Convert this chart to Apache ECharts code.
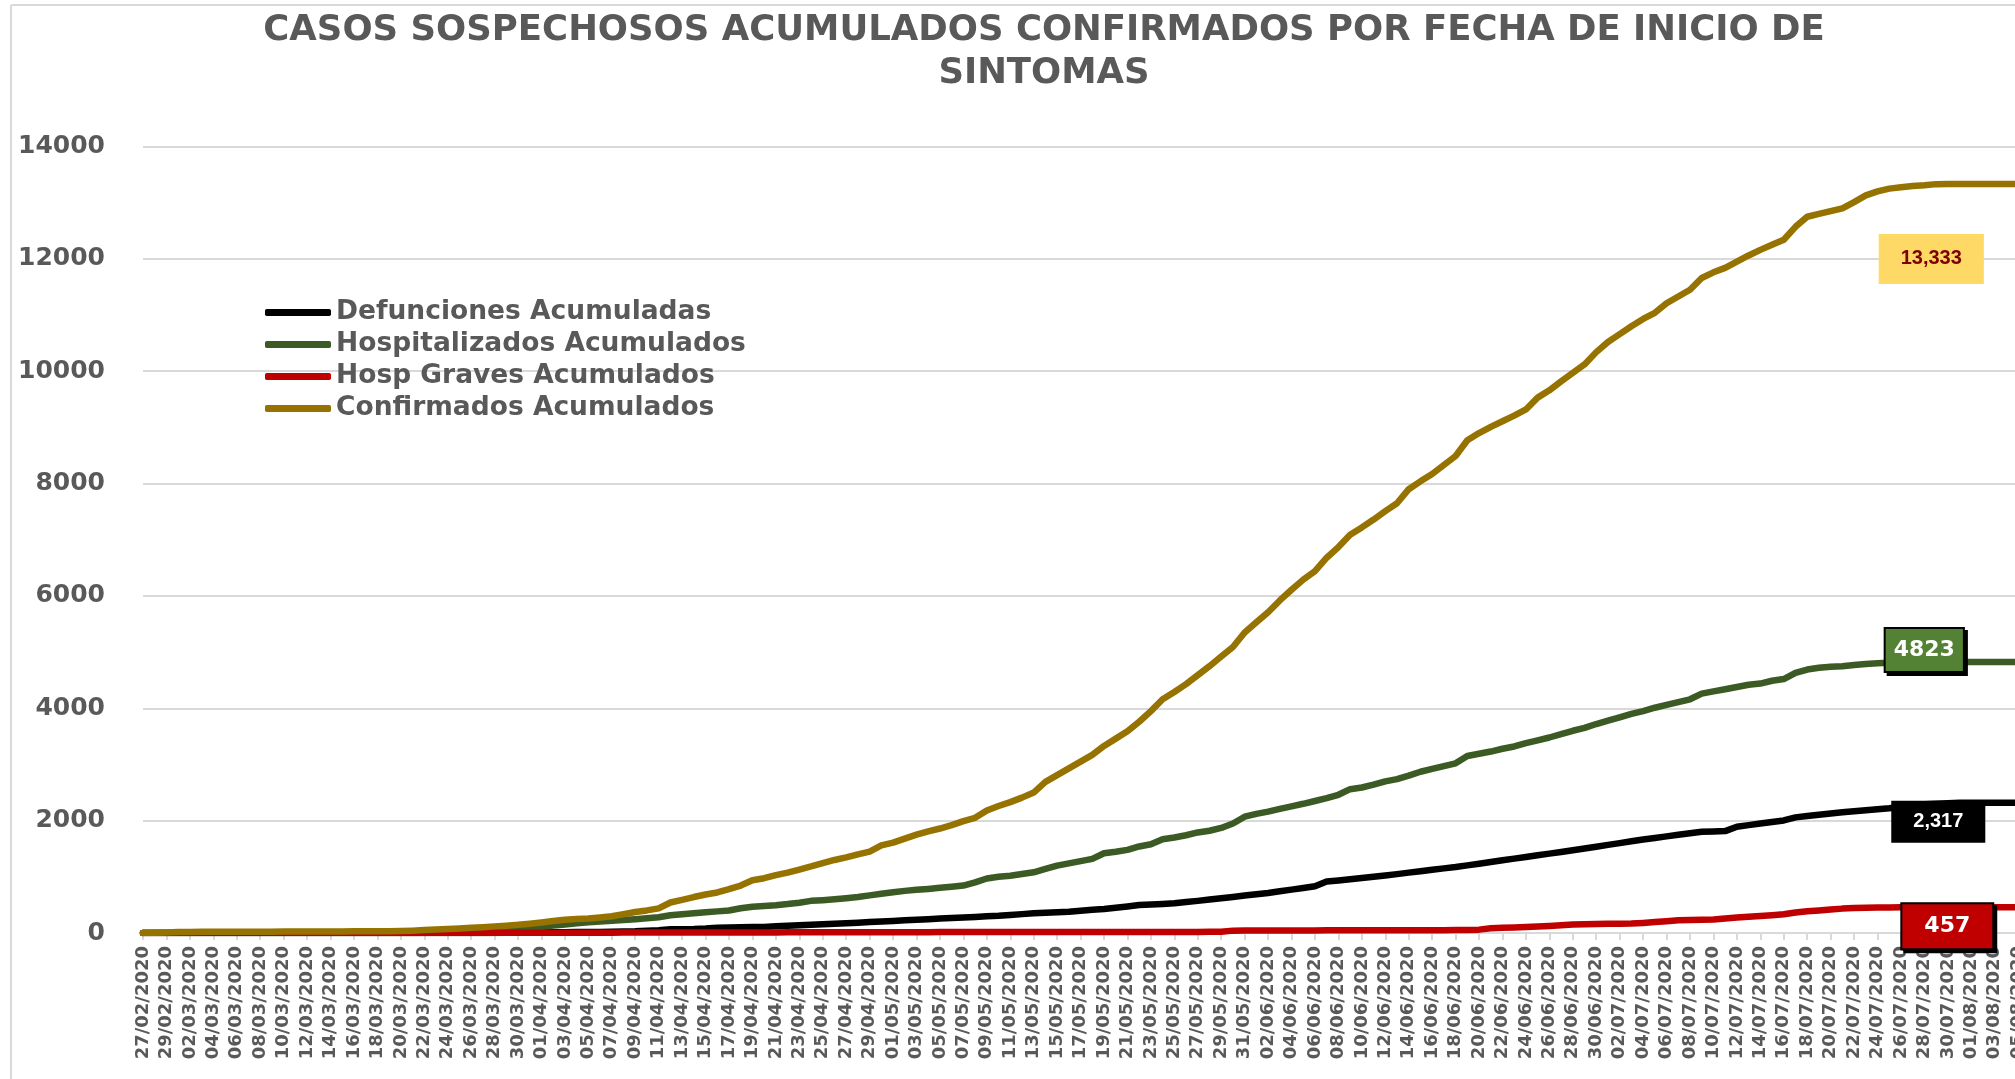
<!DOCTYPE html>
<html><head><meta charset="utf-8">
<script src="https://cdn.jsdelivr.net/npm/echarts@6/dist/echarts.min.js"></script>
<style>html,body{margin:0;padding:0;background:#fff;overflow:hidden}#c{width:2015px;height:1079px}</style>
</head><body><div id="c"></div>
<script>
const dates = [
"27/02/2020","28/02/2020","29/02/2020",
"01/03/2020","02/03/2020","03/03/2020","04/03/2020","05/03/2020","06/03/2020","07/03/2020","08/03/2020","09/03/2020","10/03/2020",
"11/03/2020","12/03/2020","13/03/2020","14/03/2020","15/03/2020","16/03/2020","17/03/2020","18/03/2020","19/03/2020","20/03/2020",
"21/03/2020","22/03/2020","23/03/2020","24/03/2020","25/03/2020","26/03/2020","27/03/2020","28/03/2020","29/03/2020","30/03/2020","31/03/2020",
"01/04/2020","02/04/2020","03/04/2020","04/04/2020","05/04/2020","06/04/2020","07/04/2020","08/04/2020","09/04/2020","10/04/2020",
"11/04/2020","12/04/2020","13/04/2020","14/04/2020","15/04/2020","16/04/2020","17/04/2020","18/04/2020","19/04/2020","20/04/2020",
"21/04/2020","22/04/2020","23/04/2020","24/04/2020","25/04/2020","26/04/2020","27/04/2020","28/04/2020","29/04/2020","30/04/2020",
"01/05/2020","02/05/2020","03/05/2020","04/05/2020","05/05/2020","06/05/2020","07/05/2020","08/05/2020","09/05/2020","10/05/2020",
"11/05/2020","12/05/2020","13/05/2020","14/05/2020","15/05/2020","16/05/2020","17/05/2020","18/05/2020","19/05/2020","20/05/2020",
"21/05/2020","22/05/2020","23/05/2020","24/05/2020","25/05/2020","26/05/2020","27/05/2020","28/05/2020","29/05/2020","30/05/2020","31/05/2020",
"01/06/2020","02/06/2020","03/06/2020","04/06/2020","05/06/2020","06/06/2020","07/06/2020","08/06/2020","09/06/2020","10/06/2020",
"11/06/2020","12/06/2020","13/06/2020","14/06/2020","15/06/2020","16/06/2020","17/06/2020","18/06/2020","19/06/2020","20/06/2020",
"21/06/2020","22/06/2020","23/06/2020","24/06/2020","25/06/2020","26/06/2020","27/06/2020","28/06/2020","29/06/2020","30/06/2020",
"01/07/2020","02/07/2020","03/07/2020","04/07/2020","05/07/2020","06/07/2020","07/07/2020","08/07/2020","09/07/2020","10/07/2020",
"11/07/2020","12/07/2020","13/07/2020","14/07/2020","15/07/2020","16/07/2020","17/07/2020","18/07/2020","19/07/2020","20/07/2020",
"21/07/2020","22/07/2020","23/07/2020","24/07/2020","25/07/2020","26/07/2020","27/07/2020","28/07/2020","29/07/2020","30/07/2020","31/07/2020",
"01/08/2020","02/08/2020","03/08/2020","04/08/2020","05/08/2020","06/08/2020","07/08/2020"
];

const seriesNames = ["Defunciones Acumuladas","Hospitalizados Acumulados","Hosp Graves Acumulados","Confirmados Acumulados"];

const defunciones = [
0,0,0,0,0,0,0,0,0,0,
0,0,0,0,0,0,0,0,0,0,
0,0,0,0,0,0,0,0,0,0,
2,4,6,8,10,12,14,16,18,20,
22,26,30,40,50,65,68,70,80,95,
100,104,106,108,118,128,138,145,155,165,
174,184,194,204,214,226,236,246,256,266,
276,286,296,305,320,336,353,362,370,378,
395,412,428,450,472,497,508,518,528,550,
572,595,618,642,666,690,713,742,772,800,
832,916,936,958,980,1002,1025,1048,1075,1100,
1125,1150,1174,1204,1234,1264,1294,1324,1353,1383,
1413,1443,1473,1503,1535,1568,1600,1632,1665,1692,
1720,1748,1776,1802,1808,1814,1892,1920,1948,1976,
2003,2058,2084,2106,2128,2150,2168,2186,2204,2222,
2245,2268,2290,2300,2310,2317,2317,2317,2317,2317,
2317,2317,2317
];

const hospitalizados = [
0,0,0,0,0,0,0,0,0,0,
0,0,0,0,0,0,0,0,0,0,
0,0,0,0,5,10,18,28,40,50,
58,66,75,95,115,135,152,172,192,205,
218,232,245,262,280,315,335,352,370,385,
400,440,468,480,495,515,540,572,585,600,
618,640,670,700,725,750,768,785,805,825,
845,900,970,1000,1020,1050,1080,1140,1200,1240,
1280,1320,1420,1445,1480,1540,1580,1670,1700,1740,
1790,1820,1870,1950,2070,2120,2160,2210,2255,2300,
2350,2400,2460,2560,2590,2640,2700,2740,2800,2870,
2920,2970,3020,3150,3190,3230,3280,3320,3380,3430,
3480,3540,3600,3650,3720,3780,3840,3900,3950,4010,
4060,4110,4160,4260,4300,4340,4380,4420,4440,4490,
4520,4630,4690,4720,4740,4750,4770,4790,4800,4810,
4815,4823,4823,4823,4823,4823,4823,4823,4823,4823,
4823,4823,4823
];

const graves = [
0,0,0,0,0,0,0,0,0,0,
0,0,0,0,0,0,0,0,0,0,
0,0,0,0,0,1,1,2,2,2,
3,3,3,4,4,4,5,5,5,6,
6,7,7,7,8,8,9,9,9,10,
10,10,11,11,11,12,12,12,13,13,
13,14,14,14,15,15,15,15,16,16,
16,16,17,17,17,17,18,18,18,18,
18,19,19,19,19,19,20,20,20,20,
20,21,21,42,43,44,44,45,45,46,
46,47,47,48,48,48,49,49,50,50,
51,51,52,52,60,84,92,100,108,117,
126,138,150,155,160,164,166,168,180,195,
210,228,232,236,240,258,275,288,302,318,
334,366,386,400,418,434,444,448,452,455,
457,457,457,457,457,457,457,457,457,457,
457,457,457
];

const confirmados = [
0,4,10,18,20,21,22,22,23,23,
24,24,25,25,26,26,27,28,29,30,
31,33,36,42,52,62,72,82,92,104,
118,130,145,165,187,212,236,248,258,276,
298,335,374,402,438,543,590,640,685,722,
780,845,940,975,1030,1075,1130,1185,1245,1300,
1345,1400,1450,1560,1610,1680,1750,1810,1860,1920,
1990,2050,2180,2260,2330,2410,2500,2690,2810,2930,
3050,3170,3330,3460,3590,3760,3950,4160,4290,4430,
4590,4750,4920,5090,5350,5530,5710,5920,6110,6290,
6440,6680,6870,7090,7220,7360,7510,7650,7900,8040,
8170,8330,8490,8770,8900,9010,9110,9210,9320,9530,
9660,9820,9970,10120,10340,10520,10660,10800,10930,11040,
11210,11330,11450,11660,11760,11840,11950,12060,12160,12250,
12340,12570,12750,12800,12850,12900,13010,13130,13200,13250,
13275,13295,13310,13330,13333,13333,13333,13333,13333,13333,
13333,13333,13333
];

const colors = ["#000000", "#3B5A24", "#C00000", "#967300"];
const LABEL_IDX = 156;
const fmtComma = v => String(v).replace(/\B(?=(\d{3})+(?!\d))/g, ',');

const labelStyles = [
  {show:true, position:'inside', offset:[-33,19], formatter: p => fmtComma(p.value),
   backgroundColor:'#000000', color:'#ffffff', fontFamily:'"Liberation Sans Narrow","Liberation Sans",sans-serif',
   fontWeight:'bold', fontSize:20, padding:[11,22]},
  {show:true, position:'inside', offset:[-47,-12], formatter: p => String(p.value),
   backgroundColor:'#548235', color:'#ffffff', fontFamily:'"DejaVu Sans",sans-serif', fontWeight:'bold', fontSize:22,
   padding:[10,8], borderColor:'#000000', borderWidth:2, shadowColor:'#000000', shadowOffsetX:3, shadowOffsetY:3, shadowBlur:0},
  {show:true, position:'inside', offset:[-24,19], formatter: p => String(p.value),
   backgroundColor:'#C00000', color:'#ffffff', fontFamily:'"DejaVu Sans",sans-serif', fontWeight:'bold', fontSize:22,
   padding:[11,22], borderColor:'#000000', borderWidth:2, shadowColor:'#000000', shadowOffsetX:3, shadowOffsetY:3, shadowBlur:0},
  {show:true, position:'inside', offset:[-40,75], formatter: p => fmtComma(p.value),
   backgroundColor:'#FFD966', color:'#7F0000', fontFamily:'"Liberation Sans Narrow","Liberation Sans",sans-serif',
   fontWeight:'bold', fontSize:20, padding:[15,22]}
];

function withLabel(arr, lab) {
  return arr.map((v, i) => i === LABEL_IDX ? {value: v, label: lab} : v);
}

const allData = [defunciones, hospitalizados, graves, confirmados];

const series = allData.map((arr, k) => ({
  name: seriesNames[k],
  type: 'line',
  data: withLabel(arr, labelStyles[k]),
  showSymbol: true,
  showAllSymbol: true,
  symbol: 'circle',
  symbolSize: 0,
  itemStyle: {color: colors[k]},
  lineStyle: {color: colors[k], width: 6.5, cap: 'round', join: 'round'},
  label: {show: false},
  emphasis: {disabled: true},
  z: 2 + k
}));

const chart = echarts.init(document.getElementById('c'), null, {renderer: 'canvas'});
chart.setOption({
  animation: false,
  backgroundColor: '#ffffff',
  title: {
    text: 'CASOS SOSPECHOSOS ACUMULADOS CONFIRMADOS POR FECHA DE INICIO DE\nSINTOMAS',
    left: 1044, top: 9, textAlign: 'center', padding: 0,
    textStyle: {fontFamily: '"DejaVu Sans",sans-serif', fontWeight: 'bold', fontSize: 35.5, color: '#595959', lineHeight: 43}
  },
  legend: {
    orient: 'vertical', left: 260, top: 294, itemWidth: 66, itemHeight: 7, itemGap: 5, icon: 'roundRect',
    textStyle: {fontFamily: '"DejaVu Sans",sans-serif', fontWeight: 'bold', fontSize: 26.5, color: '#595959', lineHeight: 26},
    data: seriesNames
  },
  grid: {left: 143, right: -26.6, top: 146.5, bottom: 146, outerBoundsMode: 'none', containLabel: false},
  xAxis: {
    type: 'category', data: dates, boundaryGap: false,
    axisLine: {lineStyle: {color: '#D9D9D9', width: 2}},
    axisTick: {show: true, interval: 1, length: 7, lineStyle: {color: '#D9D9D9', width: 2}},
    axisLabel: {interval: 1, rotate: 90, margin: 13, fontFamily: '"DejaVu Sans",sans-serif', fontWeight: 'bold', fontSize: 18, color: '#595959'},
    splitLine: {show: false}
  },
  yAxis: {
    type: 'value', min: 0, max: 14000, interval: 2000,
    axisLine: {show: false}, axisTick: {show: false},
    splitLine: {lineStyle: {color: '#D9D9D9', width: 2}},
    axisLabel: {margin: 38, formatter: v => String(v), fontFamily: '"DejaVu Sans",sans-serif', fontWeight: 'bold', fontSize: 25, color: '#595959'}
  },
  graphic: [
    {type: 'line', shape: {x1: 11, y1: 5, x2: 2015, y2: 5}, style: {stroke: '#D9D9D9', lineWidth: 2}, silent: true},
    {type: 'line', shape: {x1: 11, y1: 5, x2: 11, y2: 1079}, style: {stroke: '#D9D9D9', lineWidth: 2}, silent: true}
  ],
  series: series
});
</script>
</body></html>
